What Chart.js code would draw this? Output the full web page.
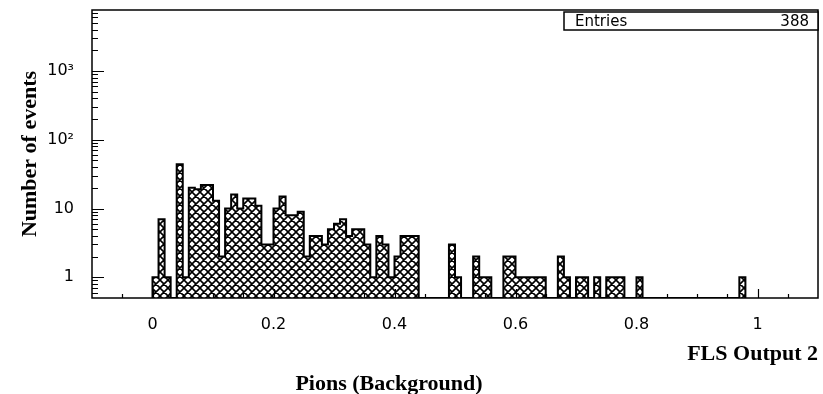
<!DOCTYPE html>
<html>
<head>
<meta charset="utf-8">
<script src="https://cdn.jsdelivr.net/npm/chart.js@4.4.1/dist/chart.umd.min.js"></script>
<style>
  html, body { margin: 0; padding: 0; background: #fff; }
  #wrap { width: 823px; height: 394px; }
</style>
</head>
<body>
<div id="wrap"><canvas id="histo"></canvas></div>
<script>
// --- DATA: non-empty bins of the FLS output histogram (bin width 0.01) ---
const binWidth = 0.01;
const binLow = [
  0.00, 0.01, 0.02, 0.04, 0.05, 0.06, 0.07, 0.08, 0.09, 0.10,
  0.11, 0.12, 0.13, 0.14, 0.15, 0.16, 0.17, 0.18, 0.19, 0.20,
  0.21, 0.22, 0.23, 0.24, 0.25, 0.26, 0.27, 0.28, 0.29, 0.30,
  0.31, 0.32, 0.33, 0.34, 0.35, 0.36, 0.37, 0.38, 0.39, 0.40,
  0.41, 0.42, 0.43, 0.49, 0.50, 0.53, 0.54, 0.55, 0.58, 0.59,
  0.60, 0.61, 0.62, 0.63, 0.64, 0.67, 0.68, 0.70, 0.71, 0.73,
  0.75, 0.76, 0.77, 0.80, 0.97
];
const counts = [
  1, 7, 1, 44, 1, 20, 19, 22, 22, 13,
  2, 10, 16, 10, 14, 14, 11, 3, 3, 10,
  15, 8, 8, 9, 2, 4, 4, 3, 5, 6,
  7, 4, 5, 5, 3, 1, 4, 3, 1, 2,
  4, 4, 4, 3, 1, 2, 1, 1, 2, 2,
  1, 1, 1, 1, 1, 2, 1, 1, 1, 1,
  1, 1, 1, 1, 1
];
const entries = 388;

const xTicks = [0, 0.2, 0.4, 0.6, 0.8, 1];
const yTicks = [1, 10, 100, 1000];
const yTickLabels = ['1', '10', '10\u00B2', '10\u00B3'];
const xRange = [-0.1, 1.1];
const yRange = [0.5, 7700];

// step outline of the histogram, empty stretches run along the floor
const outline = [{ x: binLow[0], y: yRange[0] }];
binLow.forEach((lo, i) => {
    outline.push({ x: lo, y: counts[i] });
    const hi = lo + binWidth;
    const next = binLow[i + 1];
    if (next === undefined || Math.abs(next - hi) > 1e-6) {
        outline.push({ x: hi, y: yRange[0] });
    }
});

// cross hatch fill like the PAW plot
function makeHatch() {
    const size = 8;
    const p = document.createElement('canvas');
    p.width = p.height = size;
    const c = p.getContext('2d');
    c.fillStyle = '#fff';
    c.fillRect(0, 0, size, size);
    c.strokeStyle = '#000';
    c.lineWidth = 1.6;
    c.beginPath();
    for (const off of [-size, 0, size]) {
        c.moveTo(off, 0); c.lineTo(off + size, size);
        c.moveTo(off + size, 0); c.lineTo(off, size);
    }
    c.stroke();
    return c.createPattern(p, 'repeat');
}

const tickFont = { family: "'DejaVu Sans', sans-serif", size: 16 };
const serifBold = { family: "'Liberation Serif', 'Times New Roman', serif", size: 22, weight: 'bold' };

// frame, inward ticks, stats box and lower caption
const frame = {
    id: 'frame',
    afterDatasetsDraw(chart) {
        const { ctx, chartArea: a, scales: { x, y } } = chart;
        ctx.save();
        ctx.strokeStyle = '#000';
        ctx.lineWidth = 1.5;
        ctx.strokeRect(a.left, a.top, a.right - a.left, a.bottom - a.top);

        ctx.beginPath();
        for (let d = 0.1; d < yRange[1]; d *= 10) {
            for (let m = 1; m < 10; m++) {
                const v = d * m;
                if (v <= yRange[0] || v >= yRange[1]) continue;
                const py = Math.round(y.getPixelForValue(v)) + 0.5;
                const len = m === 1 ? 12 : 6;
                ctx.moveTo(a.left, py);
                ctx.lineTo(a.left + len, py);
            }
        }
        for (let i = -1; i <= 21; i++) {
            const v = i * 0.05;
            const px = Math.round(x.getPixelForValue(v)) + 0.5;
            const len = i % 4 === 0 ? 9 : 4;
            ctx.moveTo(px, a.bottom);
            ctx.lineTo(px, a.bottom - len);
        }
        ctx.lineWidth = 1.2;
        ctx.stroke();

        // Entries box
        const bx = 564, by = a.top + 2, bw = a.right - bx, bh = 18;
        ctx.fillStyle = '#fff';
        ctx.fillRect(bx, by, bw, bh);
        ctx.lineWidth = 1.5;
        ctx.strokeRect(bx, by, bw, bh);
        ctx.fillStyle = '#000';
        ctx.font = "15px 'DejaVu Sans', sans-serif";
        ctx.textBaseline = 'middle';
        ctx.textAlign = 'left';
        ctx.fillText('Entries', bx + 11, by + bh / 2 + 1);
        ctx.textAlign = 'right';
        ctx.fillText(String(entries), a.right - 9, by + bh / 2 + 1);

        // lower caption
        ctx.font = "bold 22px 'Liberation Serif', 'Times New Roman', serif";
        ctx.textAlign = 'center';
        ctx.fillText('Pions (Background)', 389, 384);
        ctx.restore();
    }
};

new Chart(document.getElementById('histo'), {
    type: 'line',
    data: {
        datasets: [{
            data: outline,
            stepped: true,
            fill: 'start',
            backgroundColor: makeHatch(),
            borderColor: '#000',
            borderWidth: 2,
            pointRadius: 0,
            tension: 0
        }]
    },
    options: {
        responsive: true,
        maintainAspectRatio: false,
        animation: false,
        events: [],
        layout: { padding: { top: 10, right: 5, left: 0, bottom: 0 } },
        plugins: {
            legend: { display: false },
            tooltip: { enabled: false }
        },
        scales: {
            x: {
                type: 'linear',
                min: xRange[0],
                max: xRange[1],
                grid: { display: false },
                border: { display: false },
                afterBuildTicks: s => { s.ticks = xTicks.map(v => ({ value: v })); },
                afterFit: s => {
                    s.height = 96;
                    s.paddingLeft = 0;
                    s.paddingRight = 0;
                },
                ticks: {
                    padding: 9,
                    color: '#000',
                    font: tickFont,
                    maxRotation: 0,
                    autoSkip: false,
                    callback: v => String(v)
                },
                title: {
                    display: true,
                    text: 'FLS Output 2',
                    align: 'end',
                    color: '#000',
                    font: serifBold,
                    padding: { top: 0, bottom: 26 }
                }
            },
            y: {
                type: 'logarithmic',
                min: yRange[0],
                max: yRange[1],
                grid: { display: false },
                border: { display: false },
                afterBuildTicks: s => { s.ticks = yTicks.map(v => ({ value: v })); },
                afterFit: s => {
                    s.width = 92;
                    s.paddingTop = 0;
                    s.paddingBottom = 0;
                },
                ticks: {
                    padding: 10,
                    color: '#000',
                    font: tickFont,
                    autoSkip: false,
                    callback: v => yTickLabels[yTicks.indexOf(v)]
                },
                title: {
                    display: true,
                    text: 'Number of events',
                    color: '#000',
                    font: serifBold,
                    padding: { top: 17, bottom: 0 }
                }
            }
        }
    },
    plugins: [frame]
});
</script>
</body>
</html>
